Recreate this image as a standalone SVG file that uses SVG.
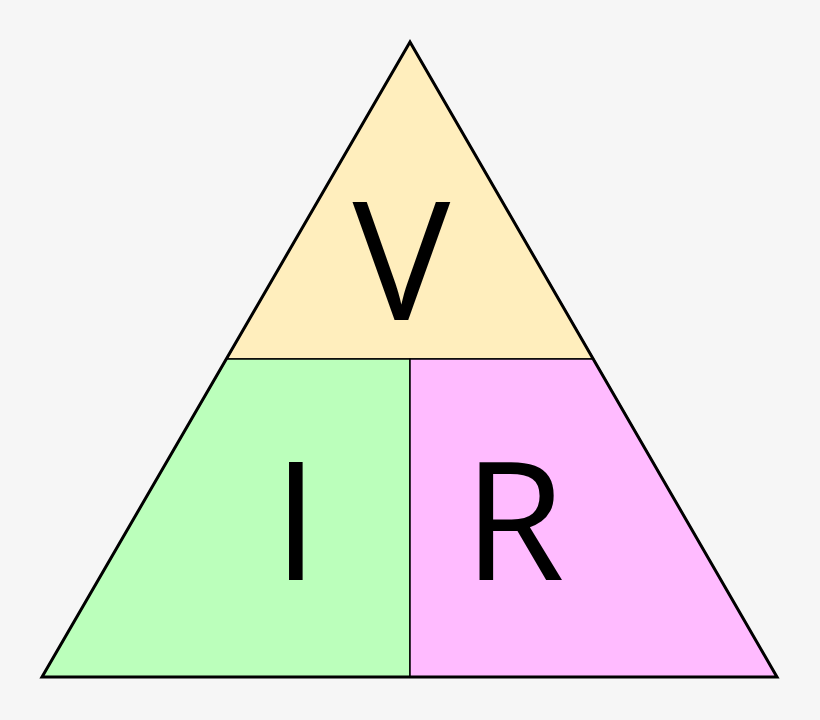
<svg xmlns="http://www.w3.org/2000/svg" width="820" height="720" viewBox="0 0 820 720">
<style>
.region{stroke:#000;stroke-width:1.5;stroke-linejoin:miter}
.lbl{font-family:"Open Sans","Liberation Sans",sans-serif;font-size:164px;fill:#000;text-anchor:middle}
</style>
<rect width="820" height="720" fill="#f6f6f6"/>
<g id="node-V">
<polygon class="region" points="410,42 593.5,359 226.5,359" fill="#ffeebd"/>
<text class="lbl" x="401.5" y="320">V</text>
</g>
<g id="node-I">
<polygon class="region" points="226.5,359 410,359 410,677 42,677" fill="#bbffbb"/>
<text class="lbl" x="296" y="580">I</text>
</g>
<g id="node-R">
<polygon class="region" points="410,359 593.5,359 777,677 410,677" fill="#ffbbff"/>
<text class="lbl" x="514" y="580">R</text>
</g>
<g id="connectors">
<polygon points="410,42 777,677 42,677" fill="none" stroke="#000" stroke-width="3" stroke-linejoin="miter"/>
</g>
</svg>
